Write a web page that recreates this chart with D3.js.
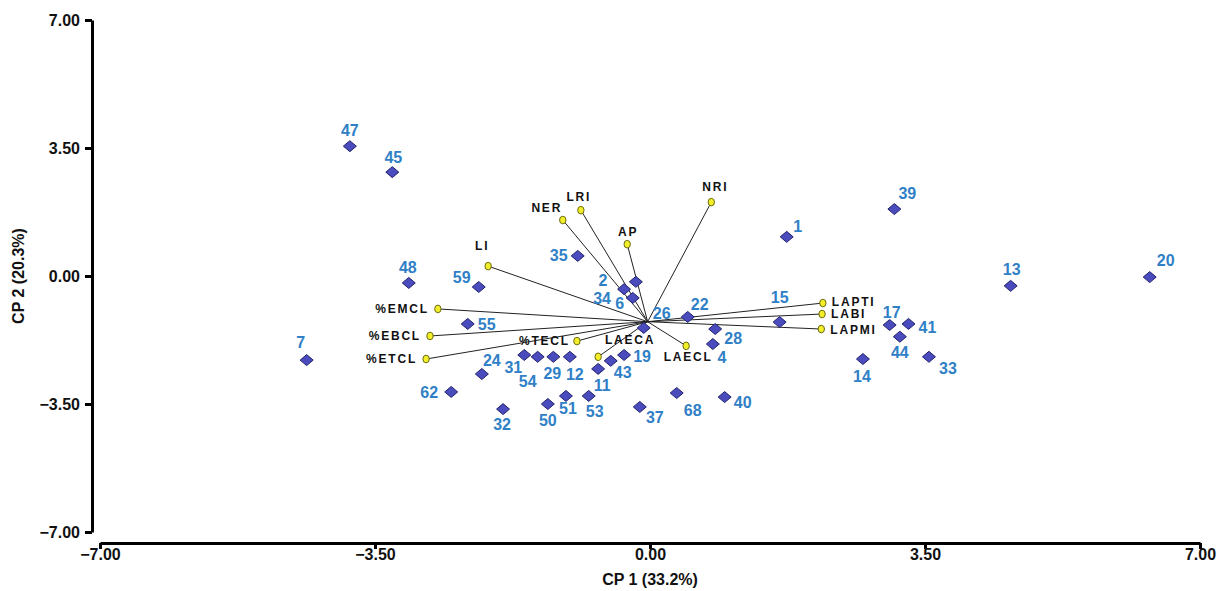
<!DOCTYPE html>
<html>
<head>
<meta charset="utf-8">
<script src="https://cdn.jsdelivr.net/npm/d3@7"></script>
<style>
  html, body { margin: 0; padding: 0; background: #fff; }
  svg { display: block; }
  text { font-family: "Liberation Sans", Arial, sans-serif; font-weight: bold; }
</style>
</head>
<body>
<svg id="chart" width="1217" height="591"></svg>
<script>
// ---- Data ----
const pointIds = ["47","45","48","7","59","55","35","2","34","6","26","22","28","4","15","1","39","17","41","44","14","33","13","20","40","68","37","19","43","11","12","29","54","31","24","62","32","50","51","53"];
const pointX   = [-3.82,-3.28,-3.07,-4.37,-2.18,-2.32,-0.92,-0.18,-0.33,-0.22,-0.08,0.48,0.83,0.80,1.65,1.74,3.11,3.05,3.29,3.18,2.71,3.55,4.59,6.36,0.95,0.34,-0.13,-0.33,-0.50,-0.66,-1.02,-1.23,-1.43,-1.60,-2.14,-2.53,-1.87,-1.30,-1.07,-0.78];
const pointY   = [3.55,2.84,-0.19,-2.30,-0.30,-1.31,0.55,-0.16,-0.36,-0.60,-1.42,-1.12,-1.45,-1.86,-1.26,1.07,1.83,-1.34,-1.31,-1.66,-2.27,-2.21,-0.27,-0.03,-3.31,-3.20,-3.58,-2.16,-2.32,-2.54,-2.21,-2.21,-2.21,-2.16,-2.68,-3.17,-3.64,-3.50,-3.28,-3.28];

const varNames = ["NRI","AP","LRI","NER","LI","%EMCL","%EBCL","%ETCL","%TECL","LAECA","LAECL","LAPTI","LABI","LAPMI"];
const varX     = [0.78,-0.29,-0.88,-1.11,-2.06,-2.70,-2.80,-2.85,-0.93,-0.66,0.46,2.20,2.19,2.18];
const varY     = [2.02,0.87,1.80,1.53,0.27,-0.90,-1.64,-2.27,-1.78,-2.21,-1.91,-0.74,-1.04,-1.45];
const vectorOrigin = [-0.03, -1.25];

const xTicks = [-7, -3.5, 0, 3.5, 7];
const yTicks = [-7, -3.5, 0, 3.5, 7];
const xTitle = "CP 1 (33.2%)";
const yTitle = "CP 2 (20.3%)";

// ---- Label layout (pixel offsets, not data) ----
const pointLabelOffset = {
  "47":[0,-16],"45":[1,-15],"48":[-1,-15],"7":[-6,-18],"59":[-17,-9],"55":[19,1],"35":[-19,0],
  "2":[-33,-1],"34":[-22,9],"6":[-13,6],"26":[18,-14],"22":[12,-12],"28":[18,9],"4":[9,13],
  "15":[0,-25],"1":[11,-10],"39":[13,-16],"17":[2,-13],"41":[19,4],"44":[0,16],"14":[-1,17],
  "33":[19,12],"13":[1,-16],"20":[16,-17],"40":[18,5],"68":[16,17],"37":[15,11],"19":[18,2],
  "43":[12,12],"11":[4,17],"12":[5,18],"29":[-1,17],"54":[-10,25],"31":[-11,13],"24":[10,-14],
  "62":[-22,1],"32":[-1,15],"50":[0,16],"51":[2,13],"53":[6,16]
};
const varLabelOffset = {
  "NRI":[4,-15,"middle"],"AP":[1,-12,"middle"],"LRI":[-2,-13,"middle"],"NER":[-16,-12,"middle"],
  "LI":[-6,-20,"middle"],"%EMCL":[-9,0,"end"],"%EBCL":[-9,0,"end"],"%ETCL":[-9,0,"end"],
  "%TECL":[-7,0,"end"],"LAECA":[32,-17,"middle"],"LAECL":[2,11,"middle"],
  "LAPTI":[9,-1,"start"],"LABI":[9,0,"start"],"LAPMI":[9,1,"start"]
};

// ---- Scales ----
const svg = d3.select("#chart");
const x = d3.scaleLinear().domain([-7, 7]).range([100, 1200]);
const y = d3.scaleLinear().domain([-7, 7]).range([532, 20]);
const fmt = d3.format(".2f");

// Y axis
const yAxisX = 92;
const yAxis = d3.axisLeft(y).tickValues(yTicks).tickFormat(fmt).tickSize(7).tickSizeOuter(0);
const gy = svg.append("g").attr("transform", `translate(${yAxisX},0)`).call(yAxis);
gy.select(".domain").attr("stroke", "#000").attr("stroke-width", 3);
gy.selectAll(".tick line").attr("stroke", "#000").attr("stroke-width", 3);
gy.selectAll(".tick text").attr("font-size", 16).attr("fill", "#111").attr("dx", -2)
  .attr("font-family", "Liberation Sans, Arial, sans-serif").attr("font-weight", "bold");

// X axis
const xAxisY = 543;
const xAxis = d3.axisBottom(x).tickValues(xTicks).tickFormat(fmt).tickSize(6).tickSizeOuter(0);
const gx = svg.append("g").attr("transform", `translate(0,${xAxisY})`).call(xAxis);
gx.select(".domain").attr("stroke", "#000").attr("stroke-width", 3);
gx.selectAll(".tick line").attr("stroke", "#000").attr("stroke-width", 3);
gx.selectAll(".tick text").attr("font-size", 16).attr("fill", "#111").attr("dy", "0.5em")
  .attr("font-family", "Liberation Sans, Arial, sans-serif").attr("font-weight", "bold");

// Axis titles
svg.append("text").attr("x", x(0)).attr("y", 585).attr("text-anchor", "middle")
  .attr("font-size", 16).attr("fill", "#111").text(xTitle);
svg.append("text").attr("transform", `translate(24,${y(0)}) rotate(-90)`).attr("text-anchor", "middle")
  .attr("font-size", 16).attr("fill", "#111").text(yTitle);

// ---- Vectors ----
const vars = varNames.map((n, i) => ({ name: n, x: varX[i], y: varY[i] }));
const gv = svg.append("g");
gv.selectAll("line").data(vars).join("line")
  .attr("x1", x(vectorOrigin[0])).attr("y1", y(vectorOrigin[1]))
  .attr("x2", d => x(d.x)).attr("y2", d => y(d.y))
  .attr("stroke", "#222").attr("stroke-width", 1);

// ---- Points ----
const pts = pointIds.map((id, i) => ({ id, x: pointX[i], y: pointY[i] }));
const diamond = "M0,-5.5L6.5,0L0,5.5L-6.5,0Z";
svg.append("g").selectAll("path").data(pts).join("path")
  .attr("d", diamond)
  .attr("transform", d => `translate(${x(d.x)},${y(d.y)})`)
  .attr("fill", "#4a4cbe").attr("stroke", "#23236e").attr("stroke-width", 1);

svg.append("g").selectAll("text").data(pts).join("text")
  .attr("x", d => x(d.x) + pointLabelOffset[d.id][0])
  .attr("y", d => y(d.y) + pointLabelOffset[d.id][1])
  .attr("text-anchor", "middle").attr("dominant-baseline", "central")
  .attr("font-size", 16).attr("fill", "#2f80c6")
  .text(d => d.id);

// Variable markers and labels
gv.selectAll("ellipse").data(vars).join("ellipse")
  .attr("cx", d => x(d.x)).attr("cy", d => y(d.y))
  .attr("rx", 3.2).attr("ry", 3.8)
  .attr("fill", "#f2ee2a").attr("stroke", "#6b6a10").attr("stroke-width", 1);

svg.append("g").selectAll("text").data(vars).join("text")
  .attr("x", d => x(d.x) + varLabelOffset[d.name][0])
  .attr("y", d => y(d.y) + varLabelOffset[d.name][1])
  .attr("text-anchor", d => varLabelOffset[d.name][2])
  .attr("dominant-baseline", "central")
  .attr("font-size", 12).attr("letter-spacing", "1.8px").attr("fill", "#111")
  .text(d => d.name);
</script>
</body>
</html>
